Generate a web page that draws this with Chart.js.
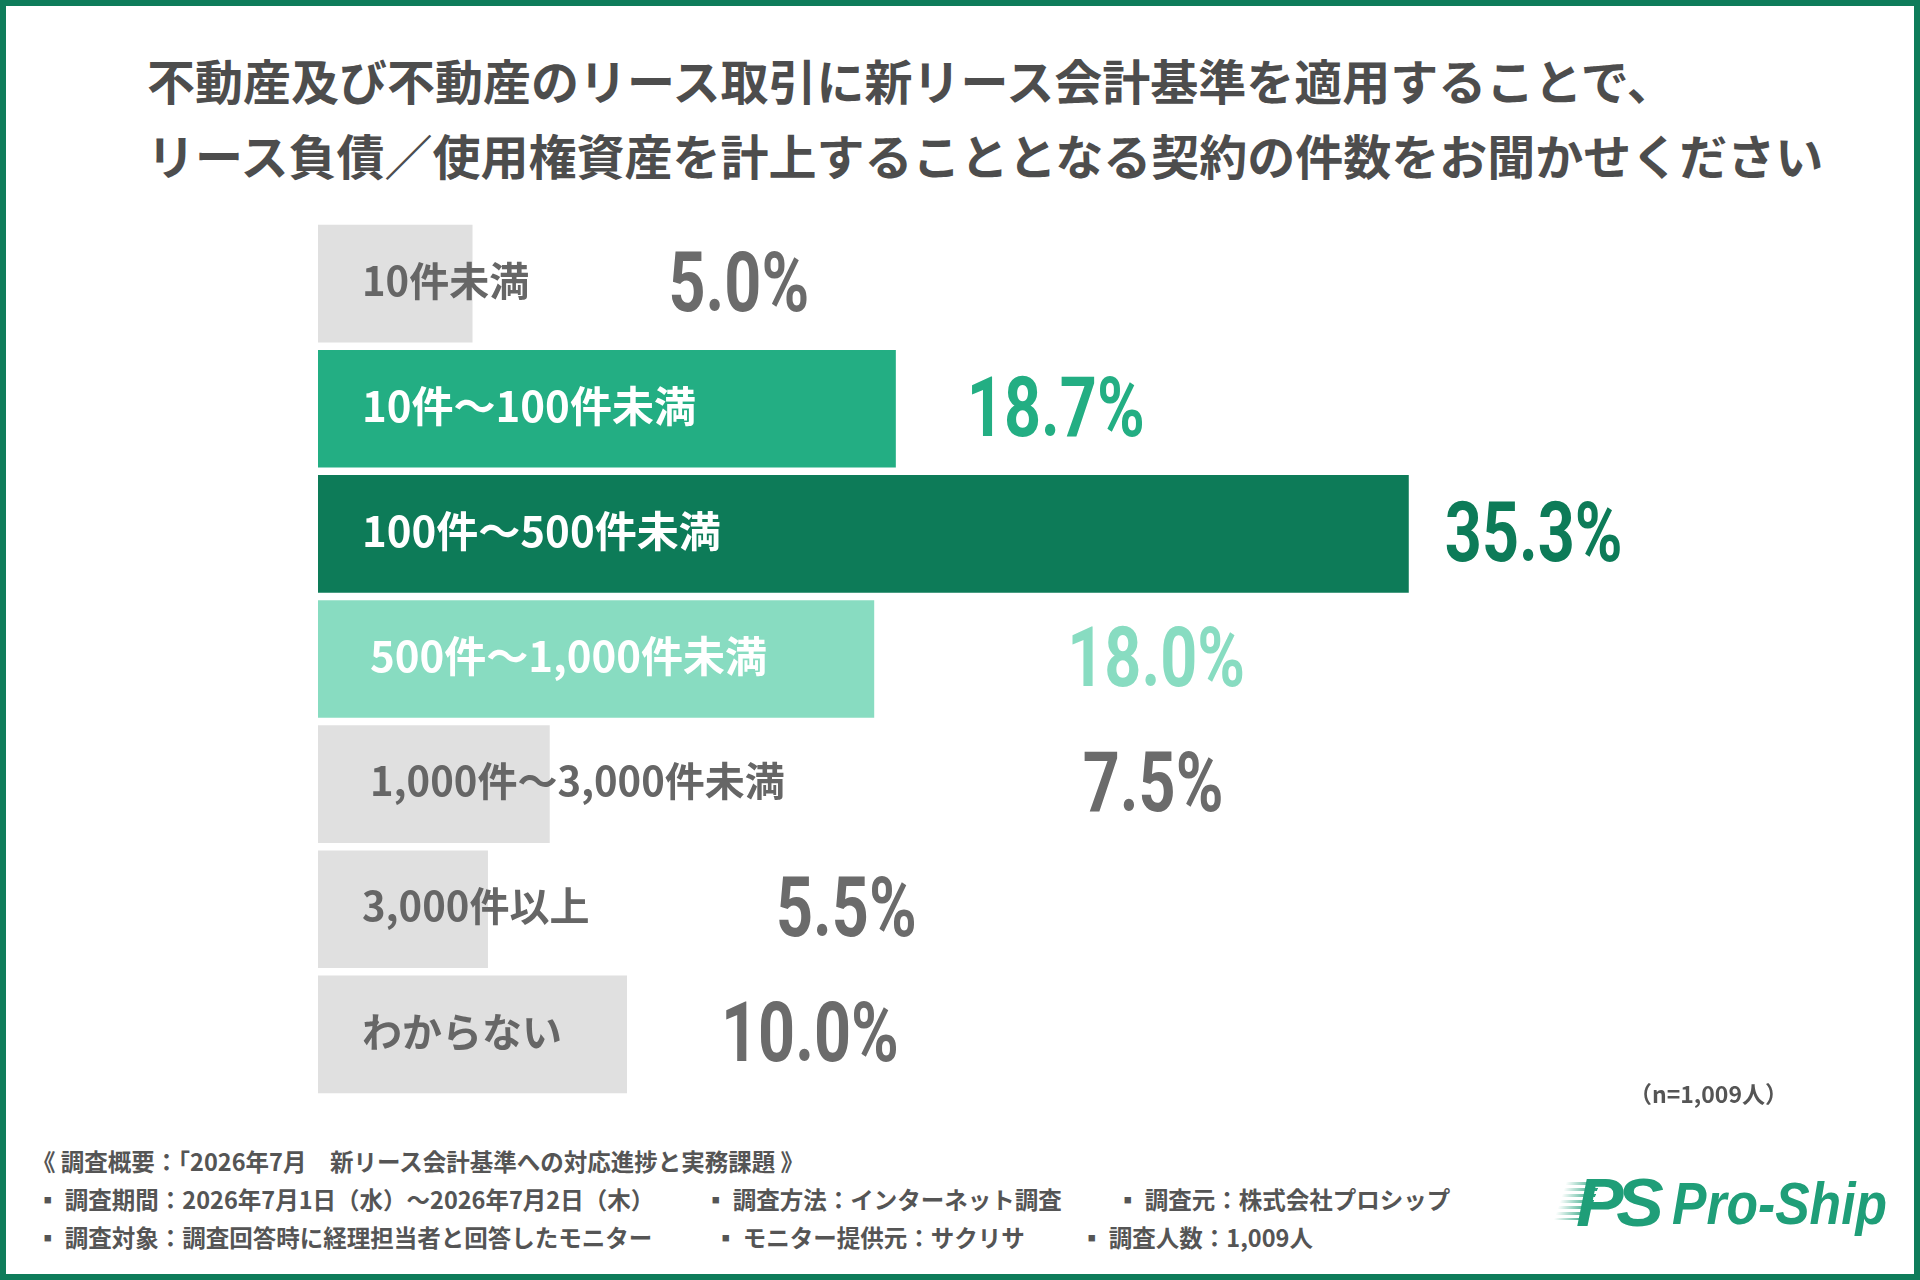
<!DOCTYPE html>
<html lang="ja">
<head>
<meta charset="utf-8">
<title>不動産リース契約件数</title>
<script src="https://cdn.jsdelivr.net/npm/chart.js@4.4.1/dist/chart.umd.min.js"></script>
<style>
    html, body {
        margin: 0;
        padding: 0;
        background: #ffffff;
    }
    body {
        width: 1920px;
        height: 1280px;
        position: relative;
        overflow: hidden;
        font-family: "Noto Sans CJK JP", "Noto Sans", sans-serif;
    }
    .frame {
        position: absolute;
        left: 0;
        top: 0;
        width: 1920px;
        height: 1280px;
        box-sizing: border-box;
        border: 6px solid #0e7c5a;
    }
    .title {
        position: absolute;
        left: 147px;
        font-size: 48px;
        line-height: 48px;
        font-weight: 700;
        color: #4d4d4d;
        white-space: nowrap;
    }
    .chart-box {
        position: absolute;
        left: 318px;
        top: 221px;
        width: 1545px;
        height: 876px;
    }
    .note {
        position: absolute;
        font-size: 23.5px;
        line-height: 24px;
        font-weight: 700;
        color: #555555;
        white-space: nowrap;
    }
    .sample {
        position: absolute;
        right: 132px;
        top: 1081px;
        font-size: 23px;
        line-height: 24px;
        font-weight: 700;
        color: #555555;
    }
    .logo {
        position: absolute;
        left: 1560px;
        top: 1166px;
        height: 72px;
        white-space: nowrap;
        color: #1f9e78;
        font-family: "Liberation Sans", Arial, sans-serif;
        font-style: italic;
        font-weight: 700;
    }
    .logo .stripes {
        position: absolute;
        left: 0;
        top: 16px;
        width: 34px;
        height: 38px;
        transform: skewX(-18deg);
        background: repeating-linear-gradient(to bottom, #1f9e78 0 3px, transparent 3px 6px);
        -webkit-mask-image: linear-gradient(to right, transparent, #000);
        mask-image: linear-gradient(to right, transparent, #000);
    }
    .logo .ps {
        position: absolute;
        left: 16px;
        top: 0;
        font-size: 68px;
        line-height: 72px;
        letter-spacing: -7px;
        transform: scaleX(1.05);
        transform-origin: left center;
    }
    .logo .name {
        position: absolute;
        left: 112px;
        top: 2px;
        font-size: 60px;
        line-height: 72px;
        transform: scaleX(0.86);
        transform-origin: left center;
    }
</style>
</head>
<body>
<div class="frame"></div>

<div class="title" style="top:55px">不動産及び不動産のリース取引に新リース会計基準を適用することで、</div>
<div class="title" style="top:130px">リース負債／使用権資産を計上することとなる契約の件数をお聞かせください</div>

<div class="chart-box"><canvas id="shareChart"></canvas></div>

<div class="sample">（n=1,009人）</div>

<div class="note" style="left:32px; top:1149px">《 調査概要：「2026年7月　新リース会計基準への対応進捗と実務課題 》</div>
<div class="note" style="left:36px; top:1187px">▪ 調査期間：2026年7月1日（水）〜2026年7月2日（木）</div>
<div class="note" style="left:704px; top:1187px">▪ 調査方法：インターネット調査</div>
<div class="note" style="left:1116px; top:1187px">▪ 調査元：株式会社プロシップ</div>
<div class="note" style="left:36px; top:1225px">▪ 調査対象：調査回答時に経理担当者と回答したモニター</div>
<div class="note" style="left:714px; top:1225px">▪ モニター提供元：サクリサ</div>
<div class="note" style="left:1080px; top:1225px">▪ 調査人数：1,009人</div>

<div class="logo"><span class="stripes"></span><span class="ps">PS</span><span class="name">Pro-Ship</span></div>

<script>
// Data
const categories = [
    '10件未満',
    '10件〜100件未満',
    '100件〜500件未満',
    '500件〜1,000件未満',
    '1,000件〜3,000件未満',
    '3,000件以上',
    'わからない'
];
const shares = [5.0, 18.7, 35.3, 18.0, 7.5, 5.5, 10.0];

// Styles
const GRAY_BAR = '#e0e0e0';
const barColors = [GRAY_BAR, '#23ae83', '#0d7b58', '#88dcc1', GRAY_BAR, GRAY_BAR, GRAY_BAR];
const valueColors = ['#6b6b6b', '#23ae83', '#0d7b58', '#88dcc1', '#6b6b6b', '#6b6b6b', '#6b6b6b'];
const labelOnGreen = [false, true, true, true, false, false, false];

// Layout (px): where the texts sit relative to each bar
const labelInset = [44, 44, 44, 52, 52, 44, 44];
const valueGap = [196, 71, 36, 193, 533, 288, 94];

/**
 * Draws the category name inside each bar and the percentage after it
 */
const barTextPlugin = {
    id: 'barText',
    afterDatasetsDraw(chart) {
        const ctx = chart.ctx;
        const bars = chart.getDatasetMeta(0).data;

        bars.forEach((bar, i) => {
            const left = bar.base;
            const y = bar.y;

            // category name
            ctx.save();
            ctx.font = labelOnGreen[i]
                ? '700 42px "Noto Sans CJK JP"'
                : '700 40px "Noto Sans CJK JP"';
            ctx.fillStyle = labelOnGreen[i] ? '#ffffff' : '#666666';
            ctx.textAlign = 'left';
            ctx.textBaseline = 'middle';
            ctx.fillText(categories[i], left + labelInset[i], y - 3);
            ctx.restore();

            // percentage, condensed
            ctx.save();
            ctx.translate(bar.x + valueGap[i], y + 27);
            ctx.scale(0.77, 1);
            ctx.font = '700 84px Roboto';
            ctx.fillStyle = valueColors[i];
            ctx.textAlign = 'left';
            ctx.textBaseline = 'alphabetic';
            ctx.fillText(shares[i].toFixed(1) + '%', 0, 0);
            ctx.restore();
        });
    }
};

const shareCtx = document.getElementById('shareChart').getContext('2d');
const shareChart = new Chart(shareCtx, {
    type: 'bar',
    data: {
        labels: categories,
        datasets: [{
            data: shares,
            backgroundColor: barColors,
            borderWidth: 0,
            barPercentage: 0.94,
            categoryPercentage: 1.0
        }]
    },
    options: {
        indexAxis: 'y',
        responsive: true,
        maintainAspectRatio: false,
        animation: false,
        layout: { padding: 0 },
        scales: {
            x: { display: false, min: 0, max: 50 },
            y: { display: false }
        },
        plugins: {
            legend: { display: false },
            tooltip: { enabled: false }
        }
    },
    plugins: [barTextPlugin]
});
</script>
</body>
</html>
